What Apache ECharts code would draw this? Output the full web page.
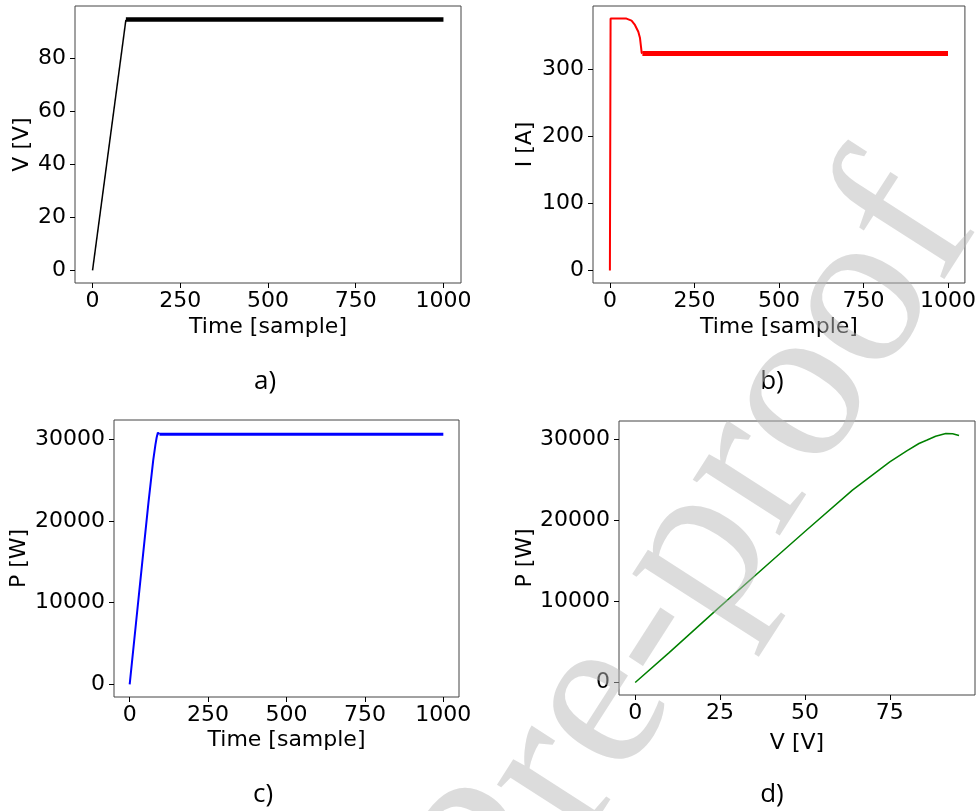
<!DOCTYPE html>
<html>
<head>
<meta charset="utf-8">
<script src="https://cdn.jsdelivr.net/npm/echarts@6/dist/echarts.min.js"></script>
<style>
    html, body {margin: 0; padding: 0; background: #fff;}
    #main {width: 979px; height: 811px;}
</style>
</head>
<body>
<div id="main"></div>
<script>
"use strict";
// a) voltage vs sample
var timeVRamp = [0, 95];
var voltRamp = [0, 94.6];
var timeVSteady = [95, 1000];
var voltSteady = [94.7, 94.7];

// b) current vs sample
var timeIRamp = [0, 2, 49, 64, 74, 84, 89, 92, 94, 96];
var currRamp = [0, 375, 375, 372, 365.5, 355.5, 346, 333, 324, 323];
var timeISteady = [96, 1000];
var currSteady = [323, 323];

// c) power vs sample
var timePRamp = [0, 20, 40, 60, 75, 82, 86, 90, 93, 95];
var powerRamp = [0, 7450, 14900, 22300, 27400, 29300, 30200, 30800, 30650, 30610];
var timePSteady = [95, 1000];
var powerSteady = [30610, 30610];

// d) power vs voltage
var voltPV = [0, 10, 25, 40, 50, 64, 75, 80, 83.6, 86, 88.5, 91.5, 93.5, 95.4];
var powerPV = [0, 3700, 9370, 14950, 18650, 23760, 27250, 28600, 29520, 29950, 30420, 30750, 30720, 30500];

// tick labels
var sampleTicks = [0, 250, 500, 750, 1000];
var voltTicks = [0, 20, 40, 60, 80];
var currTicks = [0, 100, 200, 300];
var powerTicks = [0, 10000, 20000, 30000];
var voltXTicks = [0, 25, 50, 75];
var panelLabels = ['a)', 'b)', 'c)', 'd)'];

function pairs(xs, ys) {
    var out = [];
    for (var i = 0; i < xs.length; i++) {
        out.push([xs[i], ys[i]]);
    }
    return out;
}

var tickFont = 'DejaVu Sans';

function makeAxis(idx, ticks, min, max, name, nameGap, isX) {
    return {
        type: 'value',
        gridIndex: idx,
        min: min,
        max: max,
        name: name,
        nameLocation: 'middle',
        nameGap: nameGap,
        nameTextStyle: {fontFamily: tickFont, fontSize: 22, color: '#000'},
        axisLine: {show: false, onZero: false},
        splitLine: {show: false},
        axisTick: {show: true, inside: false, length: 5, customValues: ticks,
            lineStyle: {color: '#000', width: 1}},
        axisLabel: {show: true, customValues: ticks, margin: isX ? 7 : 9, fontFamily: tickFont,
            fontSize: 22, color: '#000',
            formatter: function (v) { return String(v); }}
    };
}

function lineSeries(idx, data, color, width) {
    return {
        type: 'line',
        xAxisIndex: idx,
        yAxisIndex: idx,
        data: data,
        showSymbol: false,
        symbol: 'none',
        animation: false,
        lineStyle: {color: color, width: width},
        z: 2
    };
}

var gridStyle = {show: true, borderColor: '#444', borderWidth: 1, backgroundColor: '#fff'};

var option = {
    animation: false,
    backgroundColor: '#fff',
    grid: [
        Object.assign({left: 75, top: 6, width: 386, height: 277}, gridStyle),
        Object.assign({left: 593, top: 6, width: 373, height: 277}, gridStyle),
        Object.assign({left: 114, top: 420, width: 345, height: 277}, gridStyle),
        Object.assign({left: 619, top: 421, width: 356, height: 274}, gridStyle)
    ],
    xAxis: [
        makeAxis(0, sampleTicks, -50, 1050, 'Time [sample]', 33, true),
        makeAxis(1, sampleTicks, -50, 1050, 'Time [sample]', 33, true),
        makeAxis(2, sampleTicks, -50, 1050, 'Time [sample]', 32, true),
        makeAxis(3, voltXTicks, -4.77, 100.1, 'V [V]', 37, true)
    ],
    yAxis: [
        makeAxis(0, voltTicks, -4.75, 99.8, 'V [V]', 42, false),
        makeAxis(1, currTicks, -18.75, 393.75, 'I [A]', 57, false),
        makeAxis(2, powerTicks, -1540, 32340, 'P [W]', 84, false),
        makeAxis(3, powerTicks, -1540, 32300, 'P [W]', 79, false)
    ],
    series: [
        lineSeries(0, pairs(timeVRamp, voltRamp), '#000', 1.5),
        lineSeries(0, pairs(timeVSteady, voltSteady), '#000', 4.5),
        lineSeries(1, pairs(timeIRamp, currRamp), '#ff0000', 2),
        lineSeries(1, pairs(timeISteady, currSteady), '#ff0000', 5),
        lineSeries(2, pairs(timePRamp, powerRamp), '#0000ff', 2),
        lineSeries(2, pairs(timePSteady, powerSteady), '#0000ff', 3),
        lineSeries(3, pairs(voltPV, powerPV), '#008000', 1.5)
    ],
    graphic: [
        {type: 'text', x: 265, y: 382, style: {text: panelLabels[0], font: '26px "Open Sans"', fill: '#000', align: 'center', verticalAlign: 'middle'}},
        {type: 'text', x: 772, y: 382, style: {text: panelLabels[1], font: '26px "Open Sans"', fill: '#000', align: 'center', verticalAlign: 'middle'}},
        {type: 'text', x: 263, y: 795, style: {text: panelLabels[2], font: '26px "Open Sans"', fill: '#000', align: 'center', verticalAlign: 'middle'}},
        {type: 'text', x: 772, y: 795, style: {text: panelLabels[3], font: '26px "Open Sans"', fill: '#000', align: 'center', verticalAlign: 'middle'}},
        // watermark
        {type: 'text', x: 930, y: 192, rotation: 1.0, z: 100,
            style: {text: 'Journal Pre-proof', font: '225px "Liberation Serif"', fill: 'rgba(185,185,185,0.5)',
                align: 'right', verticalAlign: 'middle'}}
    ]
};

var chart = echarts.init(document.getElementById('main'), null, {renderer: 'canvas'});
chart.setOption(option);
</script>
</body>
</html>
